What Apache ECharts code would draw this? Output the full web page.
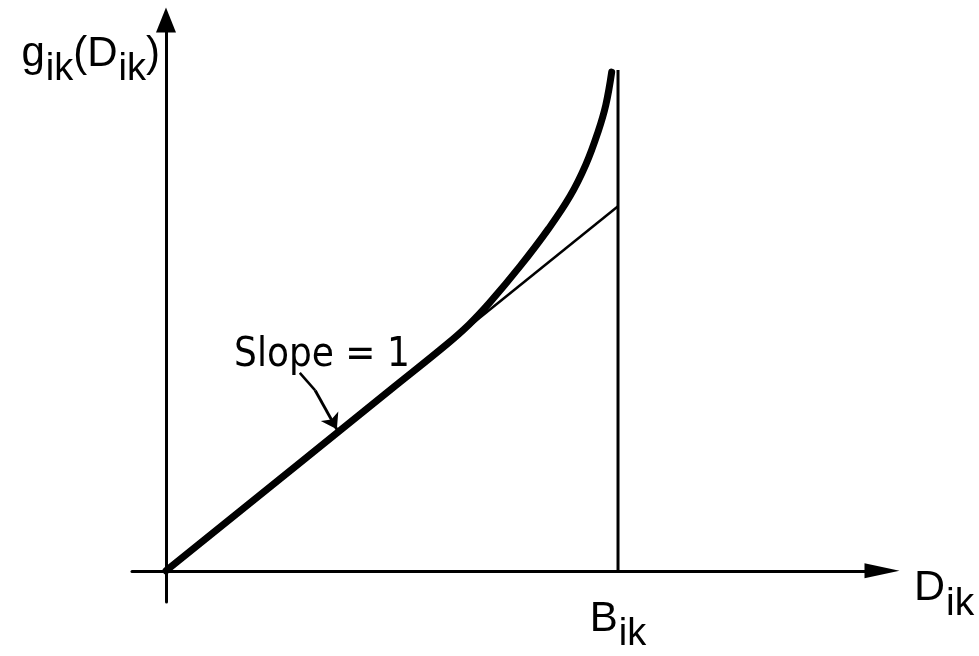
<!DOCTYPE html>
<html>
<head>
<meta charset="utf-8">
<script src="https://cdn.jsdelivr.net/npm/echarts@6/dist/echarts.min.js"></script>
<style>
  html, body { margin: 0; padding: 0; background: #fff; }
  #canvas { width: 979px; height: 656px; }
</style>
</head>
<body>
<div id="canvas"></div>
<script>
// D_ik in units of B_ik, g_ik
const curveD = [0, 0.3, 0.5, 0.62, 0.67, 0.717, 0.783, 0.846, 0.894, 0.929, 0.956, 0.973, 0.986];
const curveG = [0, 0.3, 0.5, 0.62, 0.675, 0.737, 0.835, 0.938, 1.028, 1.115, 1.205, 1.278, 1.368];
const slopeLine = [[0, 0], [1, 1]];
const capacityLine = [[1, 0], [1, 1.374]];
const slopeArrowTail = [[0.296, 0.543], [0.33, 0.495]];
const slopeArrowHead = [[0.33, 0.495], [0.378, 0.388]];
const slopeText = 'Slope = 1';
const capacityTick = [1];

function drawDelay(canvas = "canvas") {
  const myChart = echarts.init(document.getElementById(canvas));
  const font = '"Liberation Sans", "DejaVu Sans", sans-serif';
  const narrow = '"Liberation Sans Narrow", "DejaVu Sans Condensed", sans-serif';
  // main text and a dropped subscript, shifted with opposite paddings
  const sub = (size) => ({
    m: { fontSize: size, fontFamily: font, color: '#000', lineHeight: size, padding: [0, 0, 16, 0] },
    s: { fontSize: size - 4, fontFamily: font, color: '#000', lineHeight: size, padding: [16, 0, 0, 1] }
  });

  const option = {
    animation: false,
    backgroundColor: '#fff',
    grid: { left: 132, right: 97, top: 20, bottom: 39 },
    xAxis: {
      type: 'value',
      min: -0.0752, max: 1.584,
      name: '{m|D}{s|ik}',
      nameLocation: 'end',
      nameGap: 32,
      nameTextStyle: { rich: sub(43), padding: [50, 0, 0, 0] },
      axisLine: {
        onZero: true,
        symbol: ['none', 'triangle'],
        symbolSize: [15, 35],
        lineStyle: { color: '#000', width: 3 }
      },
      axisTick: { show: false },
      splitLine: { show: false },
      axisLabel: {
        customValues: capacityTick,
        formatter: () => '{m|B}{s|ik}',
        rich: sub(42),
        margin: 4
      }
    },
    yAxis: {
      type: 'value',
      min: -0.0856, max: 1.511,
      name: '{m|g}{s|ik}{m|(D}{s|ik}{m|)}',
      nameLocation: 'end',
      nameGap: -21,
      nameTextStyle: { rich: sub(42), align: 'right', verticalAlign: 'top', padding: [0, 6, 0, 0] },
      axisLine: {
        onZero: true,
        symbol: ['none', 'triangle'],
        symbolSize: [20, 25],
        lineStyle: { color: '#000', width: 3 }
      },
      axisTick: { show: false },
      splitLine: { show: false },
      axisLabel: { show: false }
    },
    series: [
      {
        type: 'line',
        data: capacityLine,
        symbol: 'none',
        lineStyle: { color: '#000', width: 3 }
      },
      {
        type: 'line',
        data: slopeLine,
        symbol: 'none',
        lineStyle: { color: '#000', width: 2.5 }
      },
      {
        type: 'line',
        data: curveD.map((d, i) => [d, curveG[i]]),
        smooth: 0.4,
        symbol: 'none',
        lineStyle: { color: '#000', width: 7, cap: 'round' }
      },
      {
        type: 'lines',
        coordinateSystem: 'cartesian2d',
        symbol: 'none',
        lineStyle: { color: '#000', width: 2.5, opacity: 1 },
        data: [{ coords: slopeArrowTail }]
      },
      {
        type: 'lines',
        coordinateSystem: 'cartesian2d',
        symbol: ['none', 'arrow'],
        symbolSize: 15,
        lineStyle: { color: '#000', width: 3, opacity: 1 },
        data: [{ coords: slopeArrowHead }]
      },
      {
        type: 'scatter',
        symbolSize: 0,
        itemStyle: { opacity: 1 },
        data: [[0.345, 0.59]],
        label: {
          show: true,
          position: 'inside',
          formatter: slopeText,
          fontFamily: narrow,
          fontSize: 40,
          color: '#000'
        }
      }
    ]
  };
  myChart.setOption(option);
}

drawDelay();
</script>
</body>
</html>
